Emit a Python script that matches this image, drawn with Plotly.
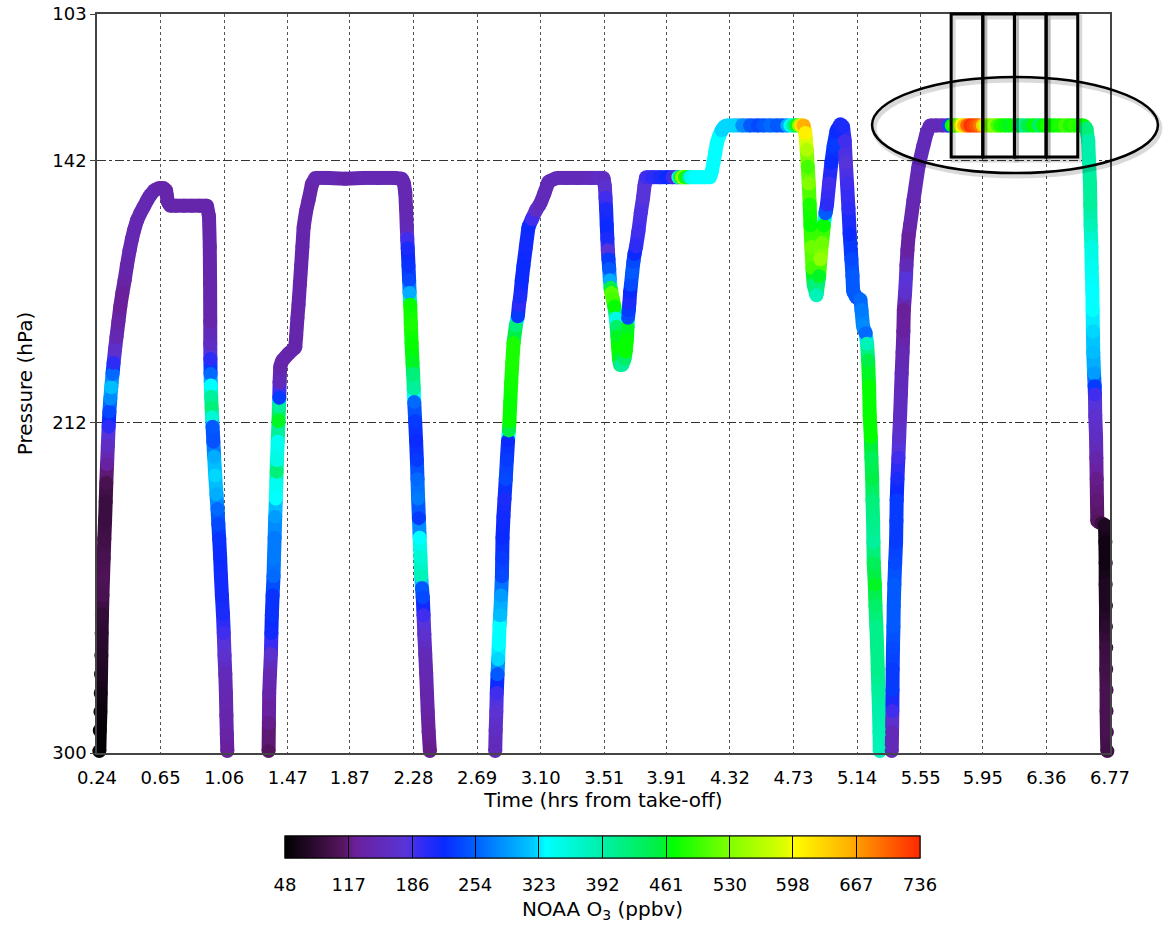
import plotly.graph_objects as go
from plotly.colors import sample_colorscale

# ---- Flight track: time (hrs from take-off), pressure (hPa), NOAA O3 (ppbv) ----
# Leg 1: first climb, level run and descent
leg1_time = [0.255, 0.258, 0.262, 0.264, 0.266, 0.268, 0.270, 0.272, 0.275, 0.279,
             0.283, 0.287, 0.292, 0.296, 0.300, 0.305, 0.310, 0.315, 0.320, 0.326,
             0.332, 0.340, 0.347, 0.356, 0.366, 0.378, 0.390, 0.403, 0.418, 0.433,
             0.450, 0.465, 0.480, 0.498, 0.520, 0.540, 0.565, 0.583, 0.610, 0.640,
             0.669, 0.685, 0.691, 0.695, 0.712, 0.750, 0.800, 0.850, 0.900, 0.949,
             0.962, 0.967, 0.969, 0.970, 0.970, 0.971, 0.972, 0.974, 0.976, 0.979,
             0.982, 0.985, 0.990, 0.995, 1.002, 1.010, 1.017, 1.022, 1.028, 1.034,
             1.039, 1.045, 1.052, 1.057, 1.062, 1.067, 1.071, 1.074, 1.077, 1.080]
leg1_pres = [299.5, 294, 289, 284, 279, 274, 268, 263, 258, 253,
             248, 243, 238, 233, 228, 223, 218, 213, 209, 205.5,
             202.5, 199, 196, 192.5, 189, 185, 181, 177.5, 174, 170,
             166, 163, 160.5, 158, 156, 154.5, 152.5, 151.3, 150, 149.4,
             149.4, 150, 151.5, 153, 154.1, 154.1, 154.1, 154.1, 154.1, 154.1,
             157, 165, 175, 185, 191, 195, 199, 202, 205, 208,
             210.5, 213, 217, 221, 226, 231, 235, 239, 243, 248,
             253, 258, 263, 268, 274, 279, 284, 290, 295, 299.5]
leg1_o3 = [50, 52, 56, 62, 70, 75, 80, 85, 100, 105,
           100, 95, 90, 90, 100, 130, 160, 200, 240, 280,
           310, 260, 200, 165, 145, 135, 125, 125, 135, 140,
           145, 145, 145, 145, 145, 145, 145, 145, 145, 140,
           140, 140, 140, 140, 140, 140, 140, 140, 140, 140,
           140, 140, 140, 140, 160, 200, 260, 330, 400, 420,
           360, 250, 245, 300, 320, 300, 260, 240, 225, 220,
           215, 215, 210, 190, 170, 150, 145, 140, 135, 125]

# Leg 2: second climb, level run and descent
leg2_time = [1.346, 1.348, 1.350, 1.355, 1.361, 1.364, 1.367, 1.372, 1.378, 1.381,
             1.385, 1.389, 1.393, 1.396, 1.398, 1.400, 1.405, 1.410, 1.413, 1.415,
             1.417, 1.421, 1.432, 1.475, 1.518, 1.524, 1.532, 1.539, 1.548, 1.556,
             1.564, 1.572, 1.588, 1.604, 1.625, 1.647, 1.733, 1.840, 1.947, 2.055,
             2.162, 2.205, 2.218, 2.227, 2.232, 2.237, 2.240, 2.243, 2.248, 2.252,
             2.255, 2.259, 2.263, 2.268, 2.274, 2.278, 2.282, 2.285, 2.291, 2.297,
             2.302, 2.306, 2.310, 2.315, 2.320, 2.325, 2.330, 2.335, 2.340, 2.345,
             2.350, 2.356, 2.362, 2.367, 2.372, 2.378, 2.386]
leg2_pres = [299.5, 292, 284, 279, 273.6, 268, 263.3, 258, 252.9, 248,
             242.6, 237, 232.2, 228, 225, 221.9, 217, 211.5, 207.5, 205.3,
             201.2, 197, 195.5, 193.5, 191.9, 188.8, 184, 180.5, 175, 170.1,
             165, 159.8, 155.5, 152.6, 148.4, 146.7, 146.7, 146.9, 146.7, 146.7,
             146.7, 146.9, 148, 150.5, 154.6, 159.8, 163, 165.5, 170.1, 174,
             177.4, 180.5, 185.7, 190.8, 196, 199, 203, 206.4, 211.5, 216.7,
             221.9, 227, 232.2, 237.4, 242.6, 247.7, 252.9, 256, 258.5, 263.3,
             268.4, 273.6, 278.8, 284, 289, 294.3, 299.5]
leg2_o3 = [110, 120, 140, 145, 170, 215, 225, 225, 260, 270,
           270, 290, 330, 340, 420, 350, 340, 460, 400, 230,
           150, 140, 140, 140, 140, 140, 140, 140, 140, 140,
           140, 140, 140, 140, 140, 145, 145, 140, 145, 145,
           145, 145, 145, 145, 145, 150, 190, 210, 225, 240,
           300, 470, 480, 470, 460, 420, 400, 260, 230, 220,
           230, 260, 270, 230, 330, 360, 380, 250, 240, 190,
           170, 150, 145, 140, 135, 125, 120]

# Leg 3: third climb, stepped level runs, dips and long descent
leg3_time = [2.807, 2.810, 2.814, 2.817, 2.822, 2.826, 2.830, 2.835, 2.839, 2.845,
             2.850, 2.852, 2.854, 2.860, 2.867, 2.875, 2.882, 2.890, 2.895, 2.899,
             2.904, 2.910, 2.917, 2.925, 2.940, 2.953, 2.960, 2.968, 2.978, 2.989,
             3.005, 3.021, 3.043, 3.070, 3.097, 3.124, 3.150, 3.204, 3.270, 3.344,
             3.420, 3.483, 3.505, 3.514, 3.518, 3.522, 3.526, 3.530, 3.533, 3.537,
             3.542, 3.546, 3.550, 3.556, 3.565, 3.575, 3.585, 3.590, 3.595, 3.600,
             3.605, 3.612, 3.625, 3.640, 3.648, 3.655, 3.660, 3.663, 3.668, 3.672,
             3.677, 3.682, 3.690, 3.698, 3.705, 3.715, 3.730, 3.745, 3.760, 3.770,
             3.780, 3.820, 3.870, 3.913, 3.950, 3.977, 3.988, 3.999, 4.010, 4.020,
             4.030, 4.042, 4.055, 4.070, 4.100, 4.128, 4.160, 4.192, 4.203, 4.214,
             4.225, 4.235, 4.250, 4.267, 4.285, 4.300, 4.343, 4.400, 4.450, 4.500,
             4.536, 4.580, 4.622, 4.660, 4.690, 4.710, 4.730, 4.750, 4.765, 4.780,
             4.795, 4.806, 4.815, 4.822, 4.828, 4.834, 4.839, 4.845, 4.852, 4.860,
             4.878, 4.895, 4.903, 4.914, 4.925, 4.936, 4.946, 4.959, 4.974, 4.989,
             5.007, 5.032, 5.049, 5.060, 5.067, 5.075, 5.084, 5.092, 5.103, 5.110,
             5.114, 5.135, 5.161, 5.168, 5.178, 5.195, 5.204, 5.211, 5.217, 5.221,
             5.228, 5.232, 5.237, 5.239, 5.243, 5.245, 5.247, 5.254, 5.258, 5.264,
             5.269, 5.273, 5.277, 5.281, 5.284, 5.286]
leg3_pres = [299.5, 294, 289, 284, 279, 275, 271, 266, 263.3, 258,
             252.9, 248, 242.6, 237, 232.2, 227, 221.9, 216.7, 214, 211.5,
             206.4, 201.2, 196, 190.8, 186, 183.6, 180.5, 178.4, 174, 170.1,
             165, 159.8, 157.7, 155.3, 153.6, 150.8, 147.7, 146.7, 146.7, 146.7,
             146.7, 146.7, 146.7, 149, 152, 155, 159.4, 163, 166, 168.4,
             171, 174, 176, 177.4, 179, 181, 184.2, 186.4, 189, 192,
             195, 196.6, 196.6, 195, 193, 190, 186.4, 184, 182, 180,
             177, 175.2, 172, 169, 167, 165, 161, 156, 152, 148.5,
             146.5, 146.5, 146.5, 146.5, 146.5, 146.5, 146.5, 146.5, 146.5, 146.5,
             146.5, 146.5, 146.5, 146.5, 146.5, 146.5, 146.5, 146.5, 145, 142.6,
             140, 137.5, 135.5, 134, 133, 132.7, 132.7, 132.7, 132.7, 132.7,
             132.7, 132.7, 132.7, 132.7, 132.7, 132.7, 132.7, 132.7, 132.7, 132.7,
             132.7, 134.7, 139.2, 143.7, 148.2, 153.8, 159.4, 165.1, 170.7, 175.2,
             178, 172.9, 168.4, 164.0, 159.4, 156.1, 153.8, 148.2, 142.6, 138.1,
             134.1, 132.4, 133, 136.9, 142.6, 148.2, 154.9, 161.7, 168.4, 172.9,
             176.9, 178.6, 179.1, 181.9, 186.4, 188.1, 190.9, 195.4, 202.2, 210.1,
             215.7, 221.3, 226.9, 232.6, 238.2, 243.8, 249.4, 255.1, 260.7, 266.3,
             271.9, 277.6, 283.2, 288.8, 294.4, 299.5]
leg3_o3 = [150, 160, 175, 190, 250, 320, 330, 330, 310, 290,
           240, 230, 220, 215, 210, 240, 230, 220, 450, 470,
           470, 475, 480, 480, 420, 230, 200, 210, 220, 220,
           215, 220, 190, 160, 150, 150, 150, 150, 150, 150,
           155, 165, 160, 170, 190, 210, 220, 210, 180, 230,
           250, 300, 450, 510, 500, 470, 350, 430, 460, 470,
           460, 420, 400, 430, 470, 470, 460, 240, 230, 210,
           220, 240, 250, 240, 220, 200, 190, 185, 180, 180,
           190, 200, 210, 220, 190, 150, 330, 450, 520, 560,
           480, 470, 400, 340, 330, 330, 330, 330, 330, 330,
           330, 330, 330, 320, 320, 320, 320, 280, 250, 240,
           250, 260, 250, 250, 300, 340, 400, 470, 540, 620,
           660, 610, 560, 500, 530, 480, 470, 520, 500, 420,
           380, 460, 540, 520, 470, 250, 200, 190, 220, 230,
           220, 210, 210, 190, 180, 190, 200, 220, 240, 250,
           250, 250, 260, 270, 280, 260, 380, 450, 470, 470,
           470, 440, 450, 420, 410, 400, 440, 460, 430, 410,
           410, 410, 400, 390, 385, 380]

# Leg 4: last climb, high level run and final descent
leg4_time = [5.363, 5.365, 5.367, 5.368, 5.369, 5.371, 5.374, 5.376, 5.380, 5.385,
             5.391, 5.393, 5.395, 5.400, 5.406, 5.411, 5.417, 5.422, 5.427, 5.433,
             5.438, 5.441, 5.449, 5.455, 5.458, 5.464, 5.472, 5.481, 5.503, 5.535,
             5.567, 5.588, 5.610, 5.650, 5.690, 5.720, 5.733, 5.750, 5.770, 5.790,
             5.810, 5.830, 5.850, 5.870, 5.890, 5.910, 5.930, 5.950, 5.965, 5.985,
             6.005, 6.025, 6.045, 6.065, 6.094, 6.120, 6.150, 6.180, 6.210, 6.240,
             6.276, 6.310, 6.340, 6.366, 6.400, 6.440, 6.480, 6.510, 6.540, 6.570,
             6.600, 6.618, 6.630, 6.635, 6.641, 6.643, 6.645, 6.650, 6.652, 6.656,
             6.658, 6.660, 6.662, 6.667, 6.671, 6.673, 6.675, 6.680, 6.682, 6.684,
             6.686, 6.688, 6.716, 6.738, 6.740, 6.742, 6.742, 6.744, 6.744, 6.746,
             6.746, 6.748, 6.748, 6.750, 6.753]
leg4_pres = [299.5, 294.4, 288.8, 283.2, 277.6, 271.9, 266.3, 260.7, 255.1, 249.4,
             243.8, 238.2, 232.6, 226.9, 221.3, 215.7, 210.1, 204.4, 198.8, 193.2,
             187.6, 181.9, 177.4, 173, 170, 166, 162, 159.4, 152.7, 143.7,
             138.1, 134.7, 132.7, 132.7, 132.7, 132.7, 132.7, 132.7, 132.7, 132.7,
             132.7, 132.7, 132.7, 132.7, 132.7, 132.7, 132.7, 132.7, 132.7, 132.7,
             132.7, 132.7, 132.7, 132.7, 132.7, 132.7, 132.7, 132.7, 132.7, 132.7,
             132.7, 132.7, 132.7, 132.7, 132.7, 132.7, 132.7, 132.7, 132.7, 132.7,
             132.7, 133.5, 136.9, 142.6, 148.2, 153.8, 159.4, 165.1, 170.7, 176.3,
             181.9, 187.6, 193.2, 198.8, 202.2, 204.4, 210.1, 215.7, 221.3, 226.9,
             232.6, 238.2, 238.8, 239.3, 243.8, 249.4, 255.1, 260.7, 266.3, 271.9,
             277.6, 283.2, 288.8, 294.4, 299.5]
leg4_o3 = [150, 150, 190, 230, 230, 240, 250, 250, 250, 240,
           230, 230, 230, 210, 190, 170, 160, 155, 150, 145,
           130, 125, 170, 180, 150, 130, 130, 140, 145, 150,
           150, 150, 150, 150, 150, 160, 240, 470, 500, 540,
           600, 650, 700, 730, 720, 710, 690, 640, 580, 540,
           520, 540, 500, 480, 470, 460, 470, 450, 410, 450,
           470, 430, 470, 480, 470, 480, 500, 480, 490, 480,
           470, 420, 390, 390, 400, 400, 380, 350, 340, 330,
           330, 320, 310, 290, 230, 190, 170, 160, 140, 120,
           115, 110, 90, 70, 60, 60, 70, 70, 80, 90,
           95, 100, 100, 100, 95]

# Axis ticks
time_tick_labels = ["0.24", "0.65", "1.06", "1.47", "1.87", "2.28", "2.69", "3.10", "3.51",
                    "3.91", "4.32", "4.73", "5.14", "5.55", "5.95", "6.36", "6.77"]
pressure_ticks = [103, 142, 212, 300]
o3_ticks = [48, 117, 186, 254, 323, 392, 461, 530, 598, 667, 736]

# Highlighted high-altitude sampling windows (hrs) and the encircled region
window_edges_hr = [5.746, 5.950, 6.154, 6.358, 6.562]
window_top_hpa, window_bottom_hpa = 103.0, 141.1
oval_hr = (5.236, 7.079)
oval_hpa = (119.8, 145.4)

O3_MIN, O3_MAX = o3_ticks[0], o3_ticks[-1]
T_MIN, T_MAX = float(time_tick_labels[0]), float(time_tick_labels[-1])
P_TOP, P_BOT = pressure_ticks[0], pressure_ticks[-1]

colorscale = [
    [0.00, "#000000"], [0.09, "#55155e"], [0.11, "#6a209a"], [0.19, "#5a34d8"],
    [0.21, "#3a2cf2"], [0.25, "#0a2aff"], [0.30, "#0060ff"], [0.39, "#00c8ff"],
    [0.41, "#00ffff"], [0.50, "#00f0a8"], [0.59, "#00f040"], [0.61, "#00ff00"],
    [0.70, "#80ff00"], [0.79, "#e0ff00"], [0.80, "#ffff00"], [0.89, "#ffb000"],
    [0.91, "#ff9000"], [1.00, "#ff2800"],
]

TRACK_W = 14

legs = [(leg1_time, leg1_pres, leg1_o3), (leg2_time, leg2_pres, leg2_o3),
        (leg3_time, leg3_pres, leg3_o3), (leg4_time, leg4_pres, leg4_o3)]


def norm(v):
    return min(max((v - O3_MIN) / (O3_MAX - O3_MIN), 0.0), 1.0)


# shared placement of the horizontal colour bar
cbar_common = dict(
    orientation="h", x=0.499, xanchor="center", y=-0.1123, yanchor="top",
    len=635, lenmode="pixels", thickness=22, xpad=0, ypad=0,
    outlinecolor="black", outlinewidth=1, tickvals=o3_ticks,
)
# labelled bar (transparent outside ticks give the label gap)
cbar_labels = dict(
    cbar_common,
    ticktext=[str(v) for v in o3_ticks],
    ticks="outside", ticklen=11, tickcolor="rgba(0,0,0,0)",
    tickfont=dict(size=18, color="black"),
    title=dict(text="NOAA O<sub>3</sub> (ppbv)", side="bottom",
               font=dict(size=20, color="black")),
)
# identical bar drawn on top with black dividers at each tick
cbar_dividers = dict(
    cbar_common, ticks="inside", ticklen=22, tickcolor="black", tickwidth=1,
    showticklabels=False,
)

fig = go.Figure()

# thick coloured segments joining consecutive samples
for t, p, o in legs:
    for i in range(len(t) - 1):
        c = sample_colorscale(colorscale, [norm(0.5 * (o[i] + o[i + 1]))])[0]
        fig.add_trace(go.Scatter(
            x=[t[i], t[i + 1]], y=[p[i], p[i + 1]], mode="lines",
            line=dict(color=c, width=TRACK_W), hoverinfo="skip", showlegend=False))

# round sample markers on top, carrying the colour bar
for k, (t, p, o) in enumerate(legs):
    cb = cbar_labels if k == 0 else cbar_dividers
    fig.add_trace(go.Scatter(
        x=t, y=p, mode="markers", showlegend=False, cliponaxis=False,
        marker=dict(
            size=TRACK_W, color=o, colorscale=colorscale, cmin=O3_MIN, cmax=O3_MAX,
            line=dict(width=0), showscale=(k in (0, 1)), colorbar=cb),
        hovertemplate="t=%{x:.2f} h<br>p=%{y:.1f} hPa<br>O3=%{marker.color} ppbv<extra></extra>",
    ))


def px_x(t):
    return (t - T_MIN) / (T_MAX - T_MIN)


def px_y(p):
    return (P_BOT - p) / (P_BOT - P_TOP)


shapes = []
# faint shadow then outline for the encircled region
for dx, dy, col, w in [(0.002, -0.004, "rgba(0,0,0,0.15)", 5), (0, 0, "black", 2.5)]:
    shapes.append(dict(type="circle", xref="paper", yref="paper",
                       x0=px_x(oval_hr[0]) + dx, x1=px_x(oval_hr[1]) + dx,
                       y0=px_y(oval_hpa[1]) + dy, y1=px_y(oval_hpa[0]) + dy,
                       line=dict(color=col, width=w), fillcolor="rgba(0,0,0,0)"))
for dx, dy, col, w in [(0.002, -0.004, "rgba(0,0,0,0.15)", 5), (0, 0, "black", 3)]:
    for a, b in zip(window_edges_hr[:-1], window_edges_hr[1:]):
        shapes.append(dict(type="rect", xref="paper", yref="paper",
                           x0=px_x(a) + dx, x1=px_x(b) + dx,
                           y0=px_y(window_bottom_hpa) + dy, y1=px_y(window_top_hpa) + dy,
                           line=dict(color=col, width=w), fillcolor="rgba(0,0,0,0)"))

fig.update_layout(
    width=1163, height=932,
    margin=dict(l=97, r=53, t=14, b=179, autoexpand=False),
    paper_bgcolor="white", plot_bgcolor="white",
    font=dict(family="DejaVu Sans", color="black", size=18),
    shapes=shapes,
    xaxis=dict(
        range=[T_MIN, T_MAX], tickvals=[float(s) for s in time_tick_labels],
        ticktext=time_tick_labels, ticks="", showline=True, mirror=True,
        linecolor="#444", linewidth=1.5, showgrid=True, gridcolor="#555",
        griddash="dot", gridwidth=1, zeroline=False, automargin=False,
        tickfont=dict(size=18), ticklabelstandoff=8,
        title=dict(text="Time (hrs from take-off)", font=dict(size=20), standoff=4),
    ),
    yaxis=dict(
        range=[P_BOT, P_TOP], tickvals=pressure_ticks,
        ticktext=[str(v) for v in pressure_ticks], ticks="outside", ticklen=5,
        tickcolor="#444", showline=True, mirror=True, linecolor="#444",
        linewidth=1.5, showgrid=True, gridcolor="#333", griddash="dashdot",
        gridwidth=1, zeroline=False, tickfont=dict(size=18), automargin=False,
        title=dict(text="Pressure (hPa)", font=dict(size=20), standoff=14),
    ),
)

fig.write_html("out.html")
